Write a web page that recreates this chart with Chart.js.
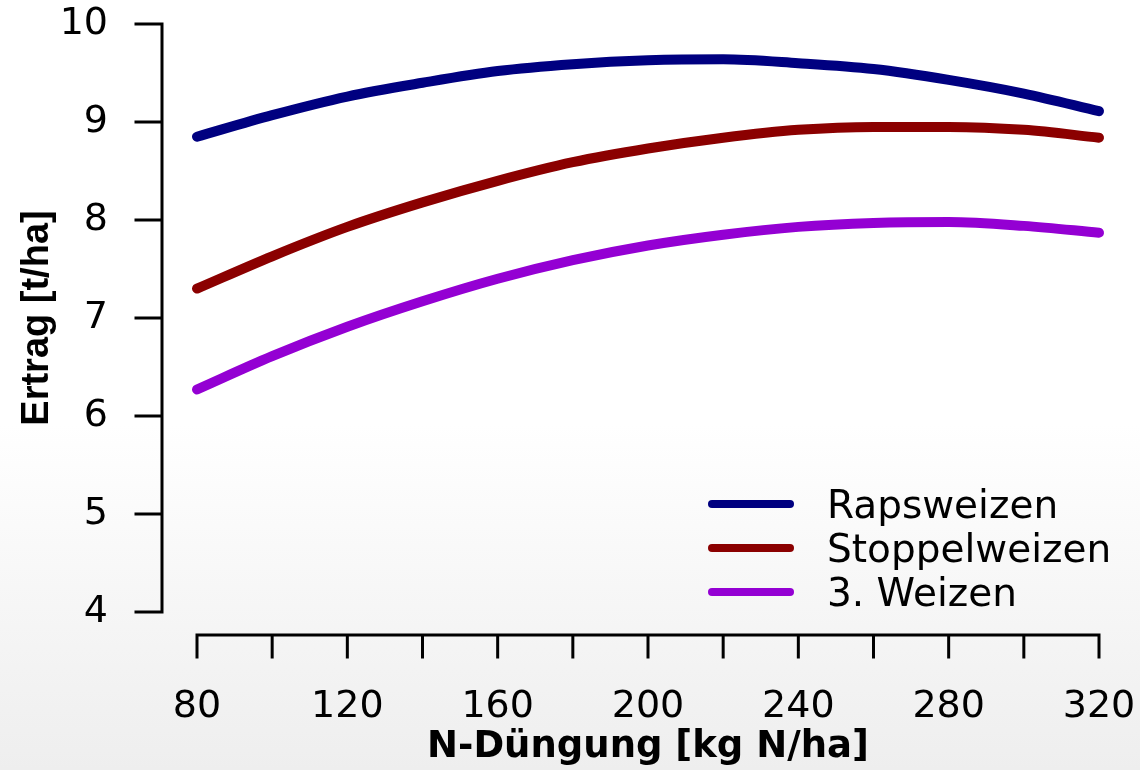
<!DOCTYPE html>
<html>
<head>
<meta charset="utf-8">
<script src="https://cdn.jsdelivr.net/npm/chart.js@4.4.1/dist/chart.umd.min.js"></script>
<style>
  html, body { margin: 0; padding: 0; }
  body {
    width: 1140px;
    height: 770px;
    overflow: hidden;
    background: linear-gradient(to bottom, #ffffff 0%, #ffffff 55%, #eeeeee 100%);
  }
</style>
</head>
<body>
<canvas id="ertragChart" width="1140" height="770"></canvas>
<script>
// Data
const nDuengung = [80, 100, 120, 140, 160, 180, 200, 220, 240, 260, 280, 300, 320];
const rapsweizen = [8.85, 9.07, 9.26, 9.40, 9.52, 9.59, 9.63, 9.64, 9.60, 9.54, 9.43, 9.29, 9.11];
const stoppelweizen = [7.30, 7.63, 7.93, 8.18, 8.40, 8.59, 8.73, 8.84, 8.92, 8.95, 8.95, 8.92, 8.84];
const dritterWeizen = [6.27, 6.61, 6.91, 7.17, 7.40, 7.59, 7.74, 7.85, 7.93, 7.97, 7.98, 7.94, 7.87];
const seriesNames = ['Rapsweizen', 'Stoppelweizen', '3. Weizen'];
const seriesColors = ['#000080', '#8b0000', '#9400d3'];
const yTicks = [4, 5, 6, 7, 8, 9, 10];
const xTicks = [80, 100, 120, 140, 160, 180, 200, 220, 240, 260, 280, 300, 320];
const xLabelled = [80, 120, 160, 200, 240, 280, 320];

const toPoints = vals => vals.map((v, i) => ({ x: nDuengung[i], y: v }));

// R-style detached axes: line + outward ticks, offset from the plot region
const rAxes = {
    id: 'rAxes',
    afterDraw(chart) {
        const { ctx, scales: { x, y } } = chart;
        ctx.save();
        ctx.strokeStyle = '#000';
        ctx.lineWidth = 3;
        ctx.lineCap = 'square';

        // y axis
        const yx = 162;
        ctx.beginPath();
        ctx.moveTo(yx, y.getPixelForValue(yTicks[0]));
        ctx.lineTo(yx, y.getPixelForValue(yTicks[yTicks.length - 1]));
        yTicks.forEach(t => {
            const py = y.getPixelForValue(t);
            ctx.moveTo(yx, py);
            ctx.lineTo(136, py);
        });
        ctx.stroke();

        // x axis
        const xy = 635;
        ctx.beginPath();
        ctx.moveTo(x.getPixelForValue(xTicks[0]), xy);
        ctx.lineTo(x.getPixelForValue(xTicks[xTicks.length - 1]), xy);
        xTicks.forEach(t => {
            const px = x.getPixelForValue(t);
            ctx.moveTo(px, xy);
            ctx.lineTo(px, 657);
        });
        ctx.stroke();
        ctx.restore();
    }
};

// legend drawn like R's legend(): short thick segment + label
const rLegend = {
    id: 'rLegend',
    afterDraw(chart) {
        const ctx = chart.ctx;
        ctx.save();
        chart.data.datasets.forEach((ds, i) => {
            const ly = 504 + i * 44;
            ctx.strokeStyle = ds.borderColor;
            ctx.lineWidth = 8;
            ctx.lineCap = 'round';
            ctx.beginPath();
            ctx.moveTo(712, ly);
            ctx.lineTo(790, ly);
            ctx.stroke();
            ctx.fillStyle = '#000';
            ctx.font = '39px "DejaVu Sans"';
            ctx.textBaseline = 'alphabetic';
            ctx.fillText(ds.label, 827, ly + 14);
        });
        ctx.restore();
    }
};

// fixed box sizes, no extra label overhang padding
const fixX = s => { s.height = 158; s.paddingLeft = 0; s.paddingRight = 0; };
const fixY = s => { s.width = 197; s.paddingTop = 0; s.paddingBottom = 0; };

const ctx = document.getElementById('ertragChart').getContext('2d');
new Chart(ctx, {
    type: 'line',
    data: {
        datasets: [rapsweizen, stoppelweizen, dritterWeizen].map((vals, i) => ({
            label: seriesNames[i],
            data: toPoints(vals),
            borderColor: seriesColors[i],
            backgroundColor: seriesColors[i],
            borderWidth: 10,
            borderCapStyle: 'round',
            pointRadius: 0,
            cubicInterpolationMode: 'monotone',
            clip: false
        }))
    },
    options: {
        responsive: false,
        devicePixelRatio: 1,
        animation: false,
        layout: { padding: { top: 24, right: 41, left: 0, bottom: 0 } },
        plugins: {
            legend: { display: false },
            tooltip: { enabled: false }
        },
        scales: {
            x: {
                type: 'linear',
                min: 80,
                max: 320,
                afterFit: fixX,
                afterBuildTicks: s => { s.ticks = xTicks.map(v => ({ value: v })); },
                grid: { display: false, drawTicks: false },
                border: { display: false },
                ticks: {
                    autoSkip: false,
                    maxRotation: 0,
                    padding: 72,
                    color: '#000',
                    font: { family: 'DejaVu Sans', size: 38 },
                    callback: v => xLabelled.includes(v) ? String(v) : ''
                },
                title: {
                    display: true,
                    text: 'N-Düngung [kg N/ha]',
                    color: '#000',
                    font: { family: 'DejaVu Sans', size: 37, weight: 'bold' },
                    padding: { top: 0, bottom: 0 }
                }
            },
            y: {
                min: 4,
                max: 10,
                afterFit: fixY,
                afterBuildTicks: s => { s.ticks = yTicks.map(v => ({ value: v })); },
                grid: { display: false, drawTicks: false },
                border: { display: false },
                ticks: {
                    padding: 89,
                    color: '#000',
                    font: { family: 'DejaVu Sans', size: 38 }
                },
                title: {
                    display: true,
                    text: 'Ertrag [t/ha]',
                    color: '#000',
                    font: { family: 'Liberation Sans', size: 38, weight: 'bold' },
                    padding: { top: 15, bottom: 0 }
                }
            }
        }
    },
    plugins: [rAxes, rLegend]
});
</script>
</body>
</html>
